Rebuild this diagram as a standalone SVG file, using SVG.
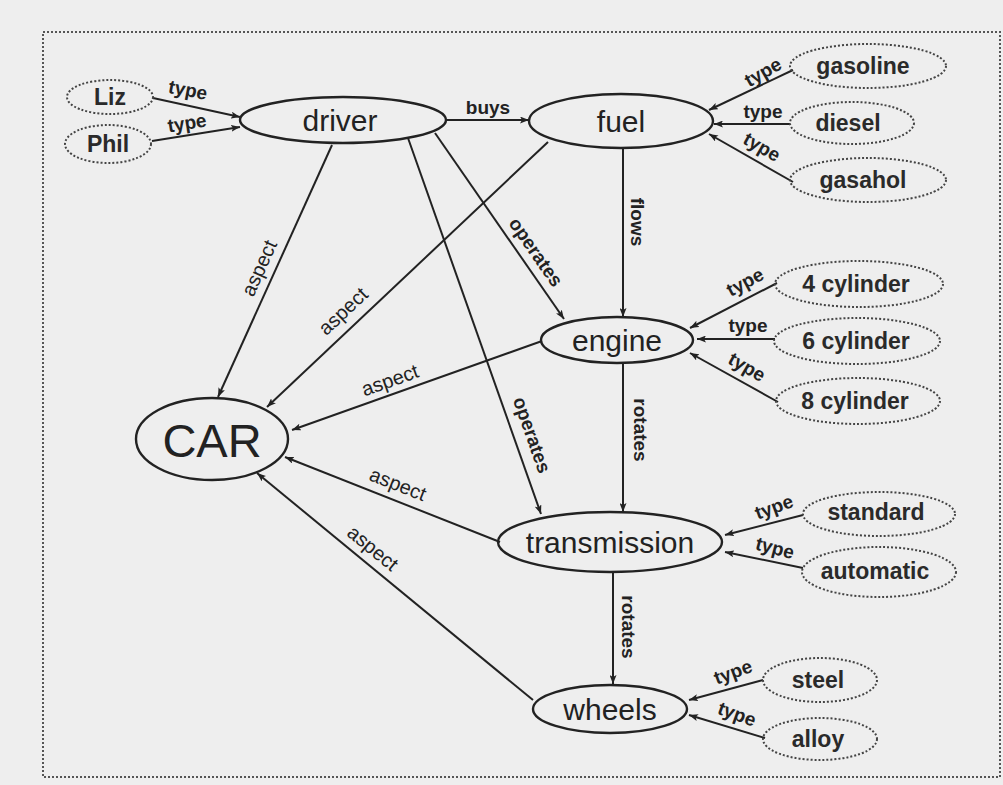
<svg xmlns="http://www.w3.org/2000/svg" width="1003" height="785" viewBox="0 0 1003 785">
<defs>
<marker id="arr" markerWidth="9" markerHeight="7" refX="9" refY="3.5" orient="auto" markerUnits="userSpaceOnUse">
<path d="M0,0 L9,3.5 L0,7 L2,3.5 z" fill="#222"/>
</marker>
<style>
.node ellipse{fill:none;stroke:#222;stroke-width:2.4}
.leaf ellipse{fill:none;stroke:#444;stroke-width:2;stroke-dasharray:2 2}
.node text{font-family:"Liberation Sans",Arial,sans-serif;font-size:30px;fill:#222;text-anchor:middle;dominant-baseline:central}
.leaf text{font-family:"Liberation Sans",Arial,sans-serif;font-size:23px;font-weight:bold;fill:#2a2a2a;text-anchor:middle;dominant-baseline:central}
#edges line{stroke:#222;stroke-width:2;marker-end:url(#arr)}
#edges text{font-family:"Liberation Sans",Arial,sans-serif;font-size:20px;fill:#222;text-anchor:middle;dominant-baseline:central}
#edges text.b{font-weight:bold;font-size:19px}
</style>
</defs>
<rect width="1003" height="785" fill="#eeeeee"/>
<rect x="43" y="32" width="957" height="745" fill="none" stroke="#555" stroke-width="2" stroke-dasharray="2 2"/>

<g id="edges">
<line x1="153" y1="98" x2="240" y2="117"/>
<text class="b" x="188" y="90" transform="rotate(11 188 90)">type</text>
<line x1="152" y1="141" x2="240" y2="127"/>
<text class="b" x="187" y="123" transform="rotate(-9 187 123)">type</text>
<line x1="447" y1="120" x2="529" y2="120"/>
<text class="b" x="488" y="107">buys</text>
<line x1="793" y1="70" x2="709" y2="110"/>
<text class="b" x="763" y="72" transform="rotate(-30 763 72)">type</text>
<line x1="790" y1="124" x2="714" y2="124"/>
<text class="b" x="763" y="111">type</text>
<line x1="793" y1="182" x2="709" y2="134"/>
<text class="b" x="762" y="147" transform="rotate(30 762 147)">type</text>
<line x1="332" y1="145" x2="218" y2="397"/>
<text x="259" y="268" transform="rotate(-65.7 259 268)">aspect</text>
<line x1="548" y1="142" x2="267" y2="407"/>
<text x="343" y="311" transform="rotate(-43.3 343 311)">aspect</text>
<line x1="542" y1="341" x2="292" y2="430"/>
<text x="390" y="380" transform="rotate(-19.6 390 380)">aspect</text>
<line x1="500" y1="542" x2="285" y2="457"/>
<text x="398" y="484" transform="rotate(21.6 398 484)">aspect</text>
<line x1="533" y1="700" x2="257" y2="473"/>
<text x="373" y="548" transform="rotate(39.4 373 548)">aspect</text>
<line x1="435" y1="133" x2="564" y2="319"/>
<text class="b" x="536" y="252" transform="rotate(55.3 536 252)">operates</text>
<line x1="408" y1="138" x2="541" y2="514"/>
<text class="b" x="532" y="435" transform="rotate(70.7 532 435)">operates</text>
<line x1="623" y1="148" x2="623" y2="317"/>
<text class="b" x="637" y="222" transform="rotate(90 637 222)">flows</text>
<line x1="623" y1="363" x2="623" y2="512"/>
<text class="b" x="640" y="430" transform="rotate(90 640 430)">rotates</text>
<line x1="613" y1="572" x2="613" y2="684"/>
<text class="b" x="628" y="627" transform="rotate(90 628 627)">rotates</text>
<line x1="777" y1="283" x2="690" y2="328"/>
<text class="b" x="745" y="282" transform="rotate(-28 745 282)">type</text>
<line x1="775" y1="339" x2="697" y2="339"/>
<text class="b" x="748" y="325">type</text>
<line x1="778" y1="402" x2="690" y2="353"/>
<text class="b" x="747" y="367" transform="rotate(30 747 367)">type</text>
<line x1="803" y1="515" x2="725" y2="535"/>
<text class="b" x="774" y="507" transform="rotate(-20 774 507)">type</text>
<line x1="803" y1="568" x2="725" y2="552"/>
<text class="b" x="775" y="548" transform="rotate(15 775 548)">type</text>
<line x1="763" y1="680" x2="689" y2="700"/>
<text class="b" x="733" y="672" transform="rotate(-20 733 672)">type</text>
<line x1="765" y1="738" x2="689" y2="715"/>
<text class="b" x="737" y="714" transform="rotate(20 737 714)">type</text>
</g>

<g id="n-driver" class="node"><ellipse cx="343" cy="120" rx="103" ry="23"/><text x="340" y="120">driver</text></g>
<g id="n-fuel" class="node"><ellipse cx="621" cy="121" rx="92" ry="27"/><text x="621" y="121">fuel</text></g>
<g id="n-engine" class="node"><ellipse cx="617" cy="340" rx="76" ry="23"/><text x="617" y="340">engine</text></g>
<g id="n-car" class="node"><ellipse cx="212" cy="439" rx="76" ry="41"/><text x="212" y="440" style="font-size:47px">CAR</text></g>
<g id="n-transmission" class="node"><ellipse cx="610" cy="542" rx="112" ry="30"/><text x="610" y="542">transmission</text></g>
<g id="n-wheels" class="node"><ellipse cx="610" cy="709" rx="77" ry="24"/><text x="610" y="709">wheels</text></g>

<g id="n-liz" class="leaf"><ellipse cx="110" cy="97" rx="43" ry="17"/><text x="110" y="97">Liz</text></g>
<g id="n-phil" class="leaf"><ellipse cx="108" cy="144" rx="43" ry="19"/><text x="108" y="144">Phil</text></g>
<g id="n-gasoline" class="leaf"><ellipse cx="868" cy="66" rx="78" ry="22"/><text x="863" y="66">gasoline</text></g>
<g id="n-diesel" class="leaf"><ellipse cx="852" cy="123" rx="62" ry="21"/><text x="848" y="123">diesel</text></g>
<g id="n-gasahol" class="leaf"><ellipse cx="868" cy="180" rx="78" ry="22"/><text x="863" y="180">gasahol</text></g>
<g id="n-4cyl" class="leaf"><ellipse cx="859" cy="284" rx="84" ry="23"/><text x="856" y="284">4 cylinder</text></g>
<g id="n-6cyl" class="leaf"><ellipse cx="857" cy="341" rx="83" ry="23"/><text x="856" y="341">6 cylinder</text></g>
<g id="n-8cyl" class="leaf"><ellipse cx="858" cy="401" rx="82" ry="23"/><text x="855" y="401">8 cylinder</text></g>
<g id="n-standard" class="leaf"><ellipse cx="879" cy="514" rx="76" ry="22"/><text x="876" y="512">standard</text></g>
<g id="n-automatic" class="leaf"><ellipse cx="879" cy="572" rx="77" ry="25"/><text x="875" y="571">automatic</text></g>
<g id="n-steel" class="leaf"><ellipse cx="820" cy="680" rx="57" ry="22"/><text x="818" y="680">steel</text></g>
<g id="n-alloy" class="leaf"><ellipse cx="820" cy="739" rx="57" ry="21"/><text x="818" y="739">alloy</text></g>
</svg>
